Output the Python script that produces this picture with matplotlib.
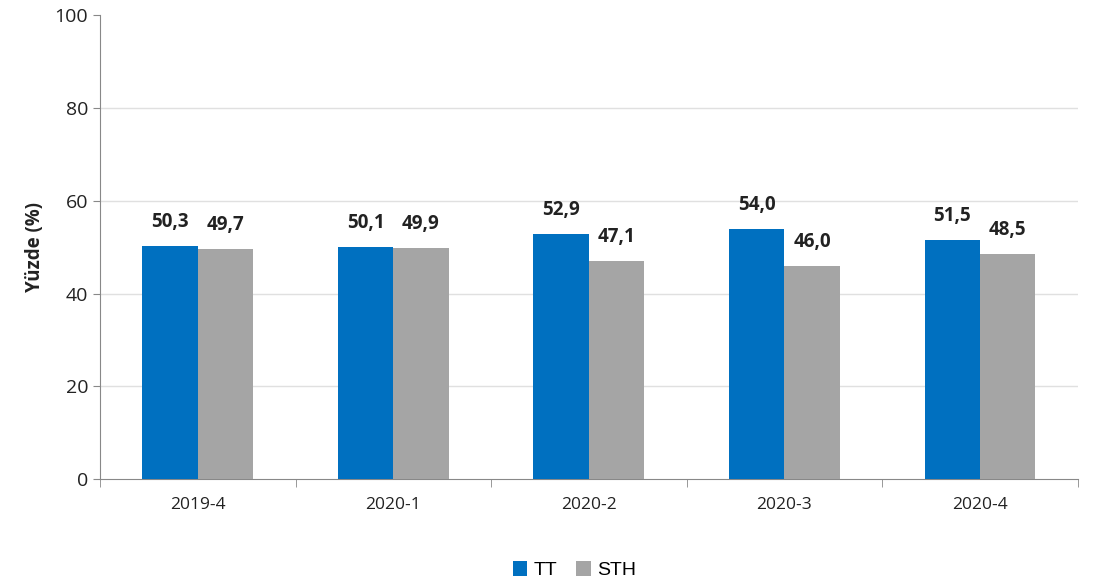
import numpy as np
import matplotlib
matplotlib.use("Agg")
import matplotlib.pyplot as plt

# veriler
donemler = ["2019-4", "2020-1", "2020-2", "2020-3", "2020-4"]
tt = [50.3, 50.1, 52.9, 54.0, 51.5]
sth = [49.7, 49.9, 47.1, 46.0, 48.5]

plt.rcParams['font.family'] = ['Open Sans', 'DejaVu Sans']

fig = plt.figure(figsize=(11.11, 5.88), dpi=100)
ax = fig.add_axes([0.09, 0.185, 0.88, 0.789])

x = np.arange(len(donemler))
w = 0.283
b1 = ax.bar(x - w / 2, tt, w, color="#0070C0", label="TT", zorder=3)
b2 = ax.bar(x + w / 2, sth, w, color="#A5A5A5", label="STH", zorder=3)

for bars in (b1, b2):
    for r in bars:
        ax.text(r.get_x() + r.get_width() / 2, r.get_height() + 3.0,
                f"{r.get_height():.1f}".replace(".", ","),
                ha="center", va="bottom", fontsize=13.5, fontweight="bold", color="#222222")

ax.set_xlim(-0.5, len(donemler) - 0.5)
ax.set_ylim(0, 100)
ax.set_yticks(range(0, 101, 20))
ax.tick_params(axis="y", labelsize=14, colors="#222222", length=5, color="#888888")
ax.set_xticks(x)
ax.set_xticklabels(donemler)
ax.set_xticks(np.arange(-0.5, len(donemler), 1), minor=True)
ax.tick_params(axis="x", which="major", length=0, labelsize=12.5, colors="#222222", pad=13)
ax.tick_params(axis="x", which="minor", length=6, color="#888888")
for yv in range(20, 100, 20):
    ax.axhline(yv, color="#E0E0E0", linewidth=1, zorder=0)
for s in ["top", "right"]:
    ax.spines[s].set_visible(False)
ax.spines["left"].set_color("#888888")
ax.spines["bottom"].set_color("#888888")

ax.set_ylabel("Yüzde (%)", fontsize=13.5, fontweight="bold", color="#222222", labelpad=7)

fig.legend(loc="lower center", bbox_to_anchor=(0.517, -0.015), ncol=2, frameon=False,
           prop={"family": "Liberation Sans", "size": 14}, handlelength=0.75, handleheight=0.75,
           handletextpad=0.3, columnspacing=1.0)

fig.savefig("out.png", dpi=100)
